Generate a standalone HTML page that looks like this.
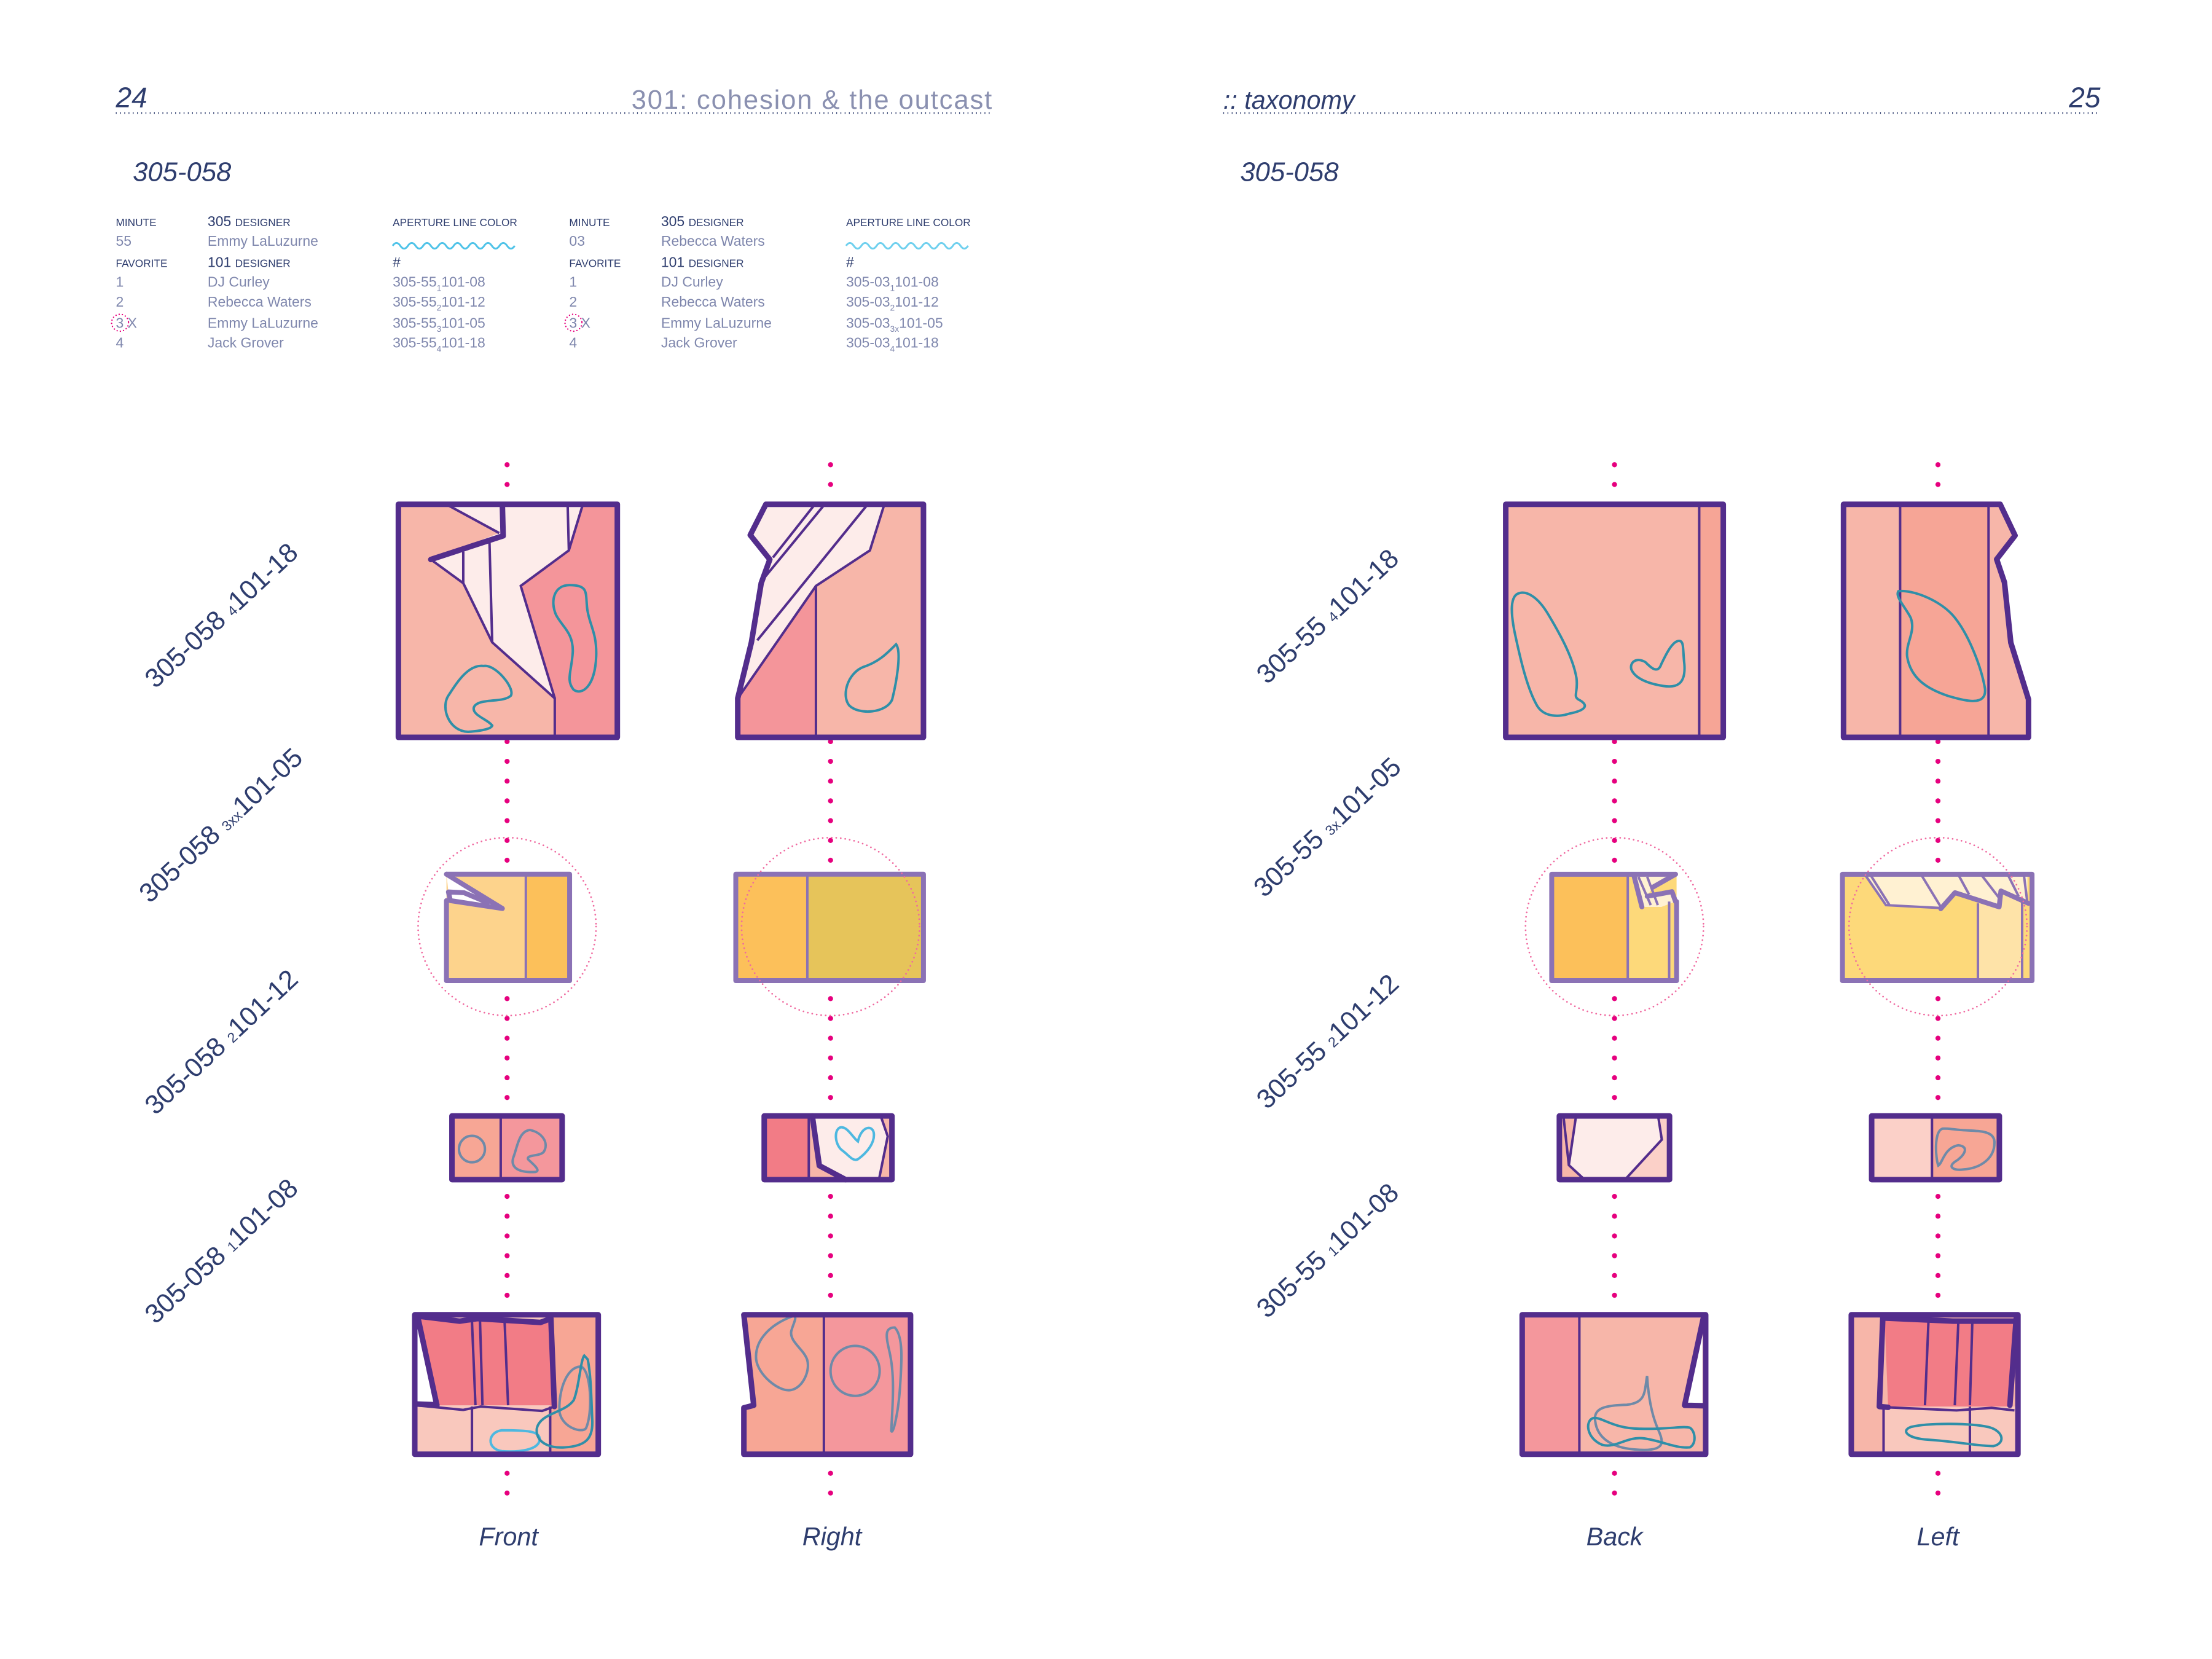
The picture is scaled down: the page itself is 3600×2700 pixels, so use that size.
<!DOCTYPE html>
<html><head><meta charset="utf-8"><style>
html,body{margin:0;padding:0;background:#fff;}
svg{display:block;}
text{font-family:"Liberation Sans",sans-serif;}
.n{fill:#2e3d6e;}
.t{fill:#7f87ad;font-size:10px;}
.h{fill:#2e3d6e;font-size:7.5px;}
.h2{fill:#2e3d6e;font-size:10px;}
.lab{fill:#2e3d6e;font-size:19px;}
.bl{fill:#2e3d6e;font-size:18px;font-style:italic;}
.k{stroke:#532d8c;fill:none;stroke-width:9;stroke-linejoin:round;stroke-linecap:round;}
.s{stroke:#532d8c;fill:none;stroke-width:4;}
.kp{stroke:#8b72b5;fill:none;stroke-width:8;stroke-linejoin:round;stroke-linecap:round;}
.sp{stroke:#8b72b5;fill:none;stroke-width:4;}
.b{fill:none;stroke:#2f8fa8;stroke-width:4;}
.bg{fill:none;stroke:#6f8aa8;stroke-width:4;}
.bb{fill:none;stroke:#4db8e0;stroke-width:4;}
.k,.s,.kp,.sp,.b,.bg,.bb{vector-effect:non-scaling-stroke;}
</style></head><body>
<svg width="3600" height="2700" viewBox="0 0 1566 1174.5" preserveAspectRatio="none" xmlns="http://www.w3.org/2000/svg">
<rect width="1600" height="1200" fill="#fff"/>
<!-- headers -->
<text x="82" y="76" class="n" font-size="20" font-style="italic">24</text>
<text x="703" y="77" font-size="19" fill="#8a90b0" text-anchor="end" letter-spacing="0.8">301: cohesion &amp; the outcast</text>
<line x1="82" y1="80" x2="703" y2="80" stroke="#2e3d6e" stroke-width="1.2" stroke-dasharray="0.6 2.4"/>
<text x="866" y="77" class="n" font-size="18" font-style="italic">:: taxonomy</text>
<text x="1487" y="76" class="n" font-size="20" font-style="italic" text-anchor="end">25</text>
<line x1="866" y1="80" x2="1487" y2="80" stroke="#2e3d6e" stroke-width="1.2" stroke-dasharray="0.6 2.4"/>
<text x="94" y="128" class="n" font-size="19" font-style="italic">305-058</text>
<text x="878" y="128" class="n" font-size="19" font-style="italic">305-058</text>

<!-- tables -->
<g>
<text x="82" y="160" class="h">MINUTE</text>
<text x="147" y="160" class="h2">305 <tspan font-size="7.5">DESIGNER</tspan></text>
<text x="278" y="160" class="h">APERTURE LINE COLOR</text>
<text x="82" y="174" class="t">55</text><text x="147" y="174" class="t">Emmy LaLuzurne</text>
<path d="M278,174 q2.7,-4 5.4,0 t5.4,0 t5.4,0 t5.4,0 t5.4,0 t5.4,0 t5.4,0 t5.4,0 t5.4,0 t5.4,0 t5.4,0 t5.4,0 t5.4,0 t5.4,0 t5.4,0 t5.4,0" fill="none" stroke="#4fc3e8" stroke-width="1.3"/>
<text x="82" y="189" class="h">FAVORITE</text>
<text x="147" y="189" class="h2">101 <tspan font-size="7.5">DESIGNER</tspan></text>
<text x="278" y="189" class="h2">#</text>
<text x="82" y="203" class="t">1</text><text x="147" y="203" class="t">DJ Curley</text><text x="278" y="203" class="t">305-55<tspan font-size="6" dy="3">1</tspan><tspan dy="-3">101-08</tspan></text>
<text x="82" y="217" class="t">2</text><text x="147" y="217" class="t">Rebecca Waters</text><text x="278" y="217" class="t">305-55<tspan font-size="6" dy="3">2</tspan><tspan dy="-3">101-12</tspan></text>
<text x="82" y="232" class="t">3 X</text><text x="147" y="232" class="t">Emmy LaLuzurne</text><text x="278" y="232" class="t">305-55<tspan font-size="6" dy="3">3</tspan><tspan dy="-3">101-05</tspan></text>
<circle cx="85" cy="228.5" r="6" fill="none" stroke="#e6007e" stroke-width="1" stroke-dasharray="0 2.3" stroke-linecap="round"/>
<text x="82" y="246" class="t">4</text><text x="147" y="246" class="t">Jack Grover</text><text x="278" y="246" class="t">305-55<tspan font-size="6" dy="3">4</tspan><tspan dy="-3">101-18</tspan></text>
</g>
<g>
<text x="403" y="160" class="h">MINUTE</text>
<text x="468" y="160" class="h2">305 <tspan font-size="7.5">DESIGNER</tspan></text>
<text x="599" y="160" class="h">APERTURE LINE COLOR</text>
<text x="403" y="174" class="t">03</text><text x="468" y="174" class="t">Rebecca Waters</text>
<path d="M599,174 q2.7,-4 5.4,0 t5.4,0 t5.4,0 t5.4,0 t5.4,0 t5.4,0 t5.4,0 t5.4,0 t5.4,0 t5.4,0 t5.4,0 t5.4,0 t5.4,0 t5.4,0 t5.4,0 t5.4,0" fill="none" stroke="#6fd0ee" stroke-width="1.3"/>
<text x="403" y="189" class="h">FAVORITE</text>
<text x="468" y="189" class="h2">101 <tspan font-size="7.5">DESIGNER</tspan></text>
<text x="599" y="189" class="h2">#</text>
<text x="403" y="203" class="t">1</text><text x="468" y="203" class="t">DJ Curley</text><text x="599" y="203" class="t">305-03<tspan font-size="6" dy="3">1</tspan><tspan dy="-3">101-08</tspan></text>
<text x="403" y="217" class="t">2</text><text x="468" y="217" class="t">Rebecca Waters</text><text x="599" y="217" class="t">305-03<tspan font-size="6" dy="3">2</tspan><tspan dy="-3">101-12</tspan></text>
<text x="403" y="232" class="t">3 X</text><text x="468" y="232" class="t">Emmy LaLuzurne</text><text x="599" y="232" class="t">305-03<tspan font-size="6" dy="3">3x</tspan><tspan dy="-3">101-05</tspan></text>
<circle cx="406" cy="228.5" r="6" fill="none" stroke="#e6007e" stroke-width="1" stroke-dasharray="0 2.3" stroke-linecap="round"/>
<text x="403" y="246" class="t">4</text><text x="468" y="246" class="t">Jack Grover</text><text x="599" y="246" class="t">305-03<tspan font-size="6" dy="3">4</tspan><tspan dy="-3">101-18</tspan></text>
</g>

<!-- rotated labels -->
<g class="lab">
<text transform="translate(110,488) rotate(-43)">305-058 <tspan font-size="10">4</tspan>101-18</text>
<text transform="translate(106,640) rotate(-43)">305-058 <tspan font-size="10">3xx</tspan>101-05</text>
<text transform="translate(110,790) rotate(-43)">305-058 <tspan font-size="10">2</tspan>101-12</text>
<text transform="translate(110,938) rotate(-43)">305-058 <tspan font-size="10">1</tspan>101-08</text>
<text transform="translate(897,485) rotate(-43)">305-55 <tspan font-size="10">4</tspan>101-18</text>
<text transform="translate(895,636) rotate(-43)">305-55 <tspan font-size="10">3x</tspan>101-05</text>
<text transform="translate(897,786) rotate(-43)">305-55 <tspan font-size="10">2</tspan>101-12</text>
<text transform="translate(897,934) rotate(-43)">305-55 <tspan font-size="10">1</tspan>101-08</text>
</g>

<!-- dotted vertical lines -->
<g stroke="#e6007e" stroke-width="3.6" stroke-linecap="round" stroke-dasharray="0 14">
<line x1="359" y1="329" x2="359" y2="1060"/>
<line x1="588" y1="329" x2="588" y2="1060"/>
<line x1="1143" y1="329" x2="1143" y2="1060"/>
<line x1="1372" y1="329" x2="1372" y2="1060"/>
</g>

<!-- ZOOM2 group: Front/Right rows 1-2 -->
<g transform="translate(262.1,324.9) scale(0.2768,0.2792)">
<rect x="72" y="115" width="560" height="591" fill="#f7b6a9"/>
<polygon points="543,118 508,232 385,322 472,607 472,706 632,706 632,118" fill="#f4959a"/>
<polygon points="200,118 330,188 155,255 238,315 312,465 472,607 385,322 508,232 543,118" fill="#fdecea"/>
<polyline class="s" points="200,118 330,188"/>
<polyline class="s" points="155,255 238,315 312,465 472,607 472,706"/>
<polyline class="s" points="472,607 385,322 508,232 543,118"/>
<polyline class="s" points="238,235 238,315"/><polyline class="s" points="305,210 312,465"/><polyline class="s" points="505,118 508,232"/>
<polyline class="k" points="155,255 340,195 338,118"/>
<path class="b" d="M290,525 C250,520 220,570 200,600 C180,630 200,690 250,692 C280,690 310,685 312,676 C300,660 260,650 265,630 C275,605 340,620 360,600 C370,580 320,520 290,525Z"/>
<path class="b" d="M510,320 C470,320 460,360 475,395 C490,425 520,440 518,490 C515,540 500,560 520,585 C540,600 575,580 578,500 C580,440 560,420 555,380 C550,340 560,320 510,320Z" stroke="#3a82a0"/>
<rect class="k" x="72" y="115" width="560" height="591"/>

<polygon points="1012,115 1415,115 1415,706 940,706 940,607 975,465 1000,315 1022,255 972,193" fill="#f7b6a9"/>
<polygon points="1140,322 945,600 940,706 1140,706" fill="#f4959a"/>
<polygon points="1012,115 1315,115 1278,232 1140,322 945,600 975,465 1000,315 1022,255 972,193" fill="#fdecea"/>
<polyline class="s" points="1315,115 1278,232 1140,322 945,600"/>
<polyline class="s" points="1140,322 1140,706"/>
<polyline class="s" points="1030,250 1135,118"/><polyline class="s" points="1005,305 1160,118"/><polyline class="s" points="990,460 1270,118"/>
<path class="b" d="M1345,470 C1320,495 1300,515 1260,528 C1220,545 1205,600 1225,625 C1250,650 1320,645 1335,610 C1345,570 1360,490 1345,470Z"/>
<polygon class="k" points="1012,115 1415,115 1415,706 940,706 940,607 975,465 1000,315 1022,255 972,193"/>

<!-- row2 front -->
<rect x="195" y="1053" width="203" height="270" fill="#fdd38c"/>
<rect x="398" y="1053" width="112" height="270" fill="#fcc05a"/>
<polygon points="195,1053 338,1140 205,1120 200,1098" fill="#fff"/>
<line class="sp" x1="398" y1="1053" x2="398" y2="1323"/>
<polyline class="kp" points="195,1053 510,1053 510,1323 195,1323 195,1120"/>
<polyline class="kp" points="195,1053 338,1140 205,1120 200,1098 240,1100 300,1125"/>
<!-- row2 right -->
<rect x="935" y="1053" width="183" height="270" fill="#fcc05a"/>
<rect x="1118" y="1053" width="297" height="270" fill="#e6c45a"/>
<line class="sp" x1="1118" y1="1053" x2="1118" y2="1323"/>
<rect class="kp" x="935" y="1053" width="480" height="270"/>
</g>

<!-- ZOOM3 group: Front/Right rows 3-4 -->
<g transform="translate(283.2,783.7) scale(0.2484,0.1805)">
<rect x="148" y="35" width="139" height="250" fill="#f7a695"/>
<rect x="287" y="35" width="175" height="250" fill="#f4979c"/>
<line class="s" x1="287" y1="35" x2="287" y2="285"/>
<ellipse class="bg" cx="205" cy="165" rx="37" ry="52"/>
<path class="bg" d="M370,90 C340,95 335,150 325,190 C310,240 340,258 385,255 C405,250 375,220 365,205 C360,185 400,195 410,175 C425,140 405,100 370,90Z"/>
<rect class="k" x="148" y="35" width="314" height="250"/>

<rect x="1038" y="35" width="364" height="250" fill="#f7b6a9"/>
<rect x="1038" y="35" width="127" height="250" fill="#f27c86"/>
<polygon points="1175,35 1370,35 1390,115 1365,285 1270,285 1195,230" fill="#fdecea"/>
<line class="s" x1="1165" y1="35" x2="1165" y2="285"/>
<polyline class="s" points="1370,35 1390,115 1365,285"/>
<polyline class="k" points="1175,35 1195,230 1270,285"/>
<path class="bb" d="M1255,80 C1235,90 1240,150 1260,170 C1280,190 1290,215 1305,205 C1330,180 1355,140 1350,100 C1345,70 1315,75 1305,135 C1290,120 1275,75 1255,80Z"/>
<rect class="k" x="1038" y="35" width="364" height="250"/>

<!-- row4 front -->
<rect x="42" y="815" width="523" height="547" fill="#f9c8bd"/>
<rect x="428" y="815" width="137" height="547" fill="#f7a695"/>
<polygon points="55,830 170,845 220,835 400,850 430,840 435,1170 110,1170" fill="#f27c86"/>
<polygon points="46,840 100,1165 46,1165" fill="#fff"/>
<polyline class="s" points="205,840 215,1170"/><polyline class="s" points="228,840 235,1170"/><polyline class="s" points="298,840 308,1170"/>
<polyline class="s" points="205,1175 205,1362"/><polyline class="s" points="428,1175 428,1362"/>
<polyline class="s" points="46,1170 180,1188 230,1175 405,1192 440,1175"/>
<polyline class="k" points="50,820 105,1170"/><polyline class="k" points="430,830 440,1175"/>
<polyline class="k" points="50,820 170,840 220,830 400,845 430,830"/>
<polyline class="k" points="46,1165 105,1168"/>
<path class="bb" d="M290,1268 C250,1275 245,1340 290,1350 C340,1355 395,1345 398,1305 C400,1270 360,1268 290,1268Z" stroke="#6aaecd"/>
<path class="bg" d="M515,1018 C470,1020 450,1130 455,1200 C465,1260 520,1280 530,1260 C550,1200 545,1030 515,1018Z"/>
<path class="b" d="M525,975 C515,990 510,1100 495,1150 C470,1200 400,1200 390,1260 C385,1310 420,1340 470,1335 C530,1330 550,1300 548,1230 C545,1150 545,1060 535,990 Z" stroke="#1f8aa5"/>
<rect class="k" x="42" y="815" width="523" height="547"/>

<!-- row4 right -->
<polygon points="980,815 1208,815 1208,1362 980,1362 980,1180 1008,1170" fill="#f7a695"/>
<rect x="1208" y="815" width="247" height="547" fill="#f4979c"/>
<line class="s" x1="1208" y1="815" x2="1208" y2="1362"/>
<path class="bg" d="M1120,820 C1060,850 1010,910 1015,990 C1020,1050 1080,1120 1115,1110 C1150,1100 1170,1030 1160,990 C1150,950 1110,920 1115,880 C1120,850 1135,820 1120,820Z"/>
<ellipse class="bg" cx="1297" cy="1035" rx="70" ry="98"/>
<path class="bg" d="M1410,865 C1380,865 1385,900 1395,960 C1410,1050 1405,1150 1400,1270 C1405,1290 1420,1200 1425,1100 C1430,1000 1435,900 1410,865Z" stroke="#4f7fa8"/>
<polygon class="k" points="980,815 1455,815 1455,1362 980,1362 980,1180 1008,1170"/>
</g>

<!-- ZOOM5 group: Back/Left rows 3-4 -->
<g transform="translate(1067.2,783.7) scale(0.2484,0.1805)">
<rect x="148" y="35" width="314" height="250" fill="#fbd0c8"/>
<polygon points="148,35 195,35 175,228 220,285 148,285" fill="#f7b6a9"/>
<polygon points="195,40 430,40 440,128 335,285 220,285 175,228" fill="#fdecea"/>
<polyline class="s" points="160,40 175,228 220,285"/>
<polyline class="s" points="195,40 175,228"/>
<polyline class="s" points="430,40 440,128 335,285"/>
<rect class="k" x="148" y="35" width="314" height="250"/>

<rect x="1038" y="35" width="172" height="250" fill="#fbd0c8"/>
<rect x="1210" y="35" width="192" height="250" fill="#f7a695"/>
<line class="s" x1="1210" y1="35" x2="1210" y2="285"/>
<path class="bg" d="M1240,85 C1215,95 1220,200 1228,230 C1240,220 1245,160 1285,150 C1320,155 1300,195 1275,215 C1255,235 1270,250 1300,245 C1350,240 1390,200 1388,135 C1385,90 1340,95 1290,90 C1270,88 1255,83 1240,85Z"/>
<rect class="k" x="1038" y="35" width="364" height="250"/>

<rect x="42" y="815" width="163" height="547" fill="#f4979c"/>
<rect x="205" y="815" width="360" height="547" fill="#f7b6a9"/>
<polygon points="556,840 556,1165 510,1165" fill="#fff"/>
<line class="s" x1="205" y1="815" x2="205" y2="1362"/>
<path class="bg" d="M398,1055 C390,1120 395,1160 340,1168 C280,1170 245,1180 250,1230 C255,1300 300,1345 390,1345 C460,1345 440,1300 425,1250 C405,1180 400,1100 398,1055Z"/>
<path class="b" d="M245,1220 C220,1230 225,1300 270,1325 C310,1340 340,1290 390,1300 C440,1310 480,1340 520,1335 C540,1320 535,1270 520,1258 C500,1250 460,1265 380,1262 C300,1262 270,1215 245,1220Z"/>
<polyline class="k" points="558,830 505,1170 560,1172"/>
<rect class="k" x="42" y="815" width="523" height="547"/>

<rect x="980" y="815" width="475" height="547" fill="#f7b6a9"/>
<rect x="1072" y="1175" width="383" height="187" fill="#f9c8bd"/>
<polygon points="1075,830 1450,830 1430,1175 1085,1175" fill="#f27c86"/>
<polyline class="s" points="1200,840 1190,1170"/><polyline class="s" points="1285,845 1275,1170"/><polyline class="s" points="1325,842 1318,1170"/>
<polyline class="s" points="1072,1175 1072,1362"/><polyline class="s" points="1318,1175 1318,1362"/>
<polyline class="s" points="1080,1178 1280,1190 1380,1180 1445,1190"/>
<path class="b" d="M1150,1255 C1120,1270 1140,1300 1200,1305 C1280,1312 1340,1330 1385,1330 C1420,1320 1415,1270 1370,1255 C1320,1240 1200,1238 1150,1255Z" stroke="#1f98b8"/>
<polyline class="k" points="1070,820 1060,1175 1085,1178"/>
<polyline class="k" points="1450,830 1432,1170"/>
<polyline class="k" points="1075,828 1270,840 1450,840"/>
<rect class="k" x="980" y="815" width="475" height="547"/>
</g>

<!-- ZOOM4 group: Back/Left rows 1-2 -->
<g transform="translate(1066,347) scale(0.2504,0.2511)">
<rect x="0" y="40" width="615" height="657" fill="#f7b6a9"/>
<rect x="547" y="40" width="68" height="657" fill="#f6a596"/>
<line class="s" x1="547" y1="40" x2="547" y2="697"/>
<path class="b" d="M40,290 C10,295 15,350 25,400 C40,470 60,560 90,610 C110,640 150,640 180,630 C230,620 235,605 205,590 C190,580 205,570 200,530 C190,470 150,400 120,350 C90,300 60,285 40,290Z"/>
<path class="b" d="M490,425 C470,425 450,470 440,490 C430,520 410,500 395,485 C370,470 350,485 355,505 C365,530 400,545 445,552 C480,558 510,550 505,490 C500,450 505,425 490,425Z"/>
<rect class="k" x="0" y="40" width="615" height="657"/>

<polygon points="955,40 1398,40 1440,128 1388,195 1410,260 1428,430 1478,590 1478,697 955,697" fill="#f7b6a9"/>
<rect x="1115" y="40" width="250" height="657" fill="#f6a596"/>
<line class="s" x1="1115" y1="40" x2="1115" y2="697"/><line class="s" x1="1365" y1="40" x2="1365" y2="697"/>
<path class="b" d="M1110,285 C1100,300 1130,330 1145,360 C1160,400 1130,430 1135,470 C1145,530 1190,560 1250,580 C1300,595 1360,610 1355,560 C1345,500 1310,410 1270,360 C1230,310 1150,280 1110,285Z"/>
<polygon class="k" points="955,40 1398,40 1440,128 1388,195 1410,260 1428,430 1478,590 1478,697 955,697"/>

<!-- row2 back -->
<rect x="130" y="1083" width="215" height="300" fill="#fcc05a"/>
<rect x="345" y="1083" width="138" height="300" fill="#fdd97a"/>
<polygon points="360,1083 480,1083 415,1120 400,1145 440,1130 470,1130 480,1160 440,1175 385,1175" fill="#fff1d2"/>
<line class="sp" x1="345" y1="1083" x2="345" y2="1383"/><line class="sp" x1="462" y1="1160" x2="462" y2="1383"/>
<polyline class="sp" points="375,1090 410,1170"/><polyline class="sp" points="400,1090 430,1170"/>
<polyline class="kp" points="362,1085 385,1175"/>
<polyline class="kp" points="415,1120 480,1083"/>
<polyline class="kp" points="400,1145 470,1132 480,1160"/>
<polyline class="kp" points="480,1083 130,1083 130,1383 483,1383 483,1160"/>
<!-- row2 left -->
<rect x="952" y="1083" width="536" height="300" fill="#fdd97a"/>
<rect x="1335" y="1083" width="125" height="300" fill="#fee3a8"/>
<polygon points="1015,1083 1475,1083 1475,1170 1400,1130 1395,1175 1270,1135 1230,1180 1075,1170" fill="#fff1d2"/>
<line class="sp" x1="1335" y1="1165" x2="1335" y2="1383"/><line class="sp" x1="1460" y1="1150" x2="1460" y2="1383"/>
<polyline class="sp" points="1015,1083 1075,1170 1230,1178"/><polyline class="sp" points="1030,1083 1085,1170"/>
<polyline class="sp" points="1175,1085 1230,1175"/><polyline class="sp" points="1280,1085 1310,1140"/>
<polyline class="sp" points="1345,1085 1395,1150"/><polyline class="sp" points="1420,1085 1450,1145"/><polyline class="sp" points="1465,1085 1475,1165"/>
<polyline class="kp" points="1230,1180 1270,1135 1395,1175 1400,1130 1478,1165"/>
<rect class="kp" x="952" y="1083" width="536" height="300"/>
</g>

<!-- dotted circles -->
<g fill="none" stroke="#f06aa0" stroke-width="1.2" stroke-dasharray="0 3.2" stroke-linecap="round">
<circle cx="359" cy="656" r="63"/>
<circle cx="588" cy="656" r="63"/>
<circle cx="1143" cy="656" r="63"/>
<circle cx="1372" cy="656" r="63"/>
</g>

<!-- bottom labels -->
<text x="360" y="1094" class="bl" text-anchor="middle">Front</text>
<text x="589" y="1094" class="bl" text-anchor="middle">Right</text>
<text x="1143" y="1094" class="bl" text-anchor="middle">Back</text>
<text x="1372" y="1094" class="bl" text-anchor="middle">Left</text>
</svg>
</body></html>
